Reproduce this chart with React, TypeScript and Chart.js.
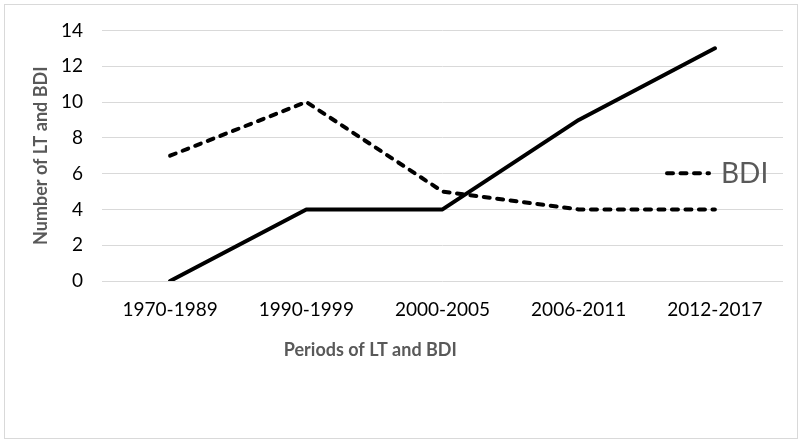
import React, { useEffect, useRef } from "react";
import { Chart, registerables } from "chart.js";

Chart.register(...registerables);

const categories = ["1970-1989", "1990-1999", "2000-2005", "2006-2011", "2012-2017"];
const ltValues = [0, 4, 4, 9, 13];
const bdiValues = [7, 10, 5, 4, 4];
const yMin = 0;
const yMax = 14;
const yStep = 2;
const xTitle = "Periods of LT and BDI";
const yTitle = "Number of LT and BDI";
const ltLabel = "LT";
const bdiLabel = "BDI";

const FONT = "Lato, 'Open Sans', sans-serif";
const DASH = [6, 7.5];

const overlayPlugin = {
  id: "overlay",
  afterDraw(chart: any) {
    const ctx = chart.ctx as CanvasRenderingContext2D;
    const a = chart.chartArea;
    ctx.save();
    // x axis title
    ctx.font = `bold 18px ${FONT}`;
    ctx.fillStyle = "#595959";
    ctx.textAlign = "center";
    ctx.textBaseline = "middle";
    ctx.fillText(xTitle, a.left + (a.right - a.left) * 0.394, a.bottom + 69);
    // y axis title
    ctx.save();
    ctx.translate(41, (a.top + a.bottom) / 2);
    ctx.rotate(-Math.PI / 2);
    ctx.fillText(yTitle, 0, 0);
    ctx.restore();
    // legend (BDI only)
    const ly = a.top + (a.bottom - a.top) * 0.57;
    ctx.strokeStyle = "#000";
    ctx.lineWidth = 4;
    ctx.lineCap = "round";
    ctx.setLineDash(DASH);
    ctx.beginPath();
    ctx.moveTo(a.right - 116, ly);
    ctx.lineTo(a.right - 74, ly);
    ctx.stroke();
    ctx.setLineDash([]);
    ctx.font = `28px ${FONT}`;
    ctx.fillStyle = "#595959";
    ctx.textAlign = "left";
    ctx.fillText(bdiLabel, a.right - 62, ly + 1);
    ctx.restore();
  },
};

export default function App() {
  const ref = useRef<HTMLCanvasElement | null>(null);
  useEffect(() => {
    if (!ref.current) return;
    const chart = new Chart(ref.current, {
      type: "line",
      data: {
        labels: categories,
        datasets: [
          {
            label: ltLabel,
            data: ltValues,
            borderColor: "#000",
            borderWidth: 4,
            pointRadius: 0,
            borderCapStyle: "round",
            borderJoinStyle: "round",
            tension: 0,
          },
          {
            label: bdiLabel,
            data: bdiValues,
            borderColor: "#000",
            borderWidth: 4,
            borderDash: DASH,
            pointRadius: 0,
            borderCapStyle: "round",
            borderJoinStyle: "round",
            tension: 0,
          },
        ],
      },
      options: {
        animation: false,
        responsive: true,
        maintainAspectRatio: false,
        layout: { padding: { top: 24, right: 19, bottom: 102, left: 0 } },
        plugins: { legend: { display: false }, tooltip: { enabled: false } },
        scales: {
          x: {
            offset: true,
            grid: { display: false, drawTicks: false },
            border: { display: false },
            ticks: {
              autoSkip: false,
              maxRotation: 0,
              padding: 17,
              color: "#000",
              font: { family: FONT, size: 19 },
            },
            afterFit(scale: any) {
              scale.height = 60;
            },
          },
          y: {
            min: yMin,
            max: yMax,
            grid: { color: "#d9d9d9", lineWidth: 1, drawTicks: false },
            border: { display: false },
            ticks: {
              stepSize: yStep,
              padding: 19,
              color: "#000",
              font: { family: FONT, size: 19 },
            },
            afterFit(scale: any) {
              scale.width = 102;
            },
          },
        },
      },
      plugins: [overlayPlugin],
    });
    return () => chart.destroy();
  }, []);

  return (
    <div style={{ position: "fixed", left: 0, top: 0, width: 802, height: 443, background: "#fff" }}>
      <canvas ref={ref} style={{ position: "absolute", left: 0, top: 0, width: "100%", height: "100%" }} />
      <div
        style={{
          position: "absolute",
          left: 4,
          top: 4,
          width: 794,
          height: 435,
          border: "1px solid #d9d9d9",
          boxSizing: "border-box",
          pointerEvents: "none",
        }}
      />
    </div>
  );
}
